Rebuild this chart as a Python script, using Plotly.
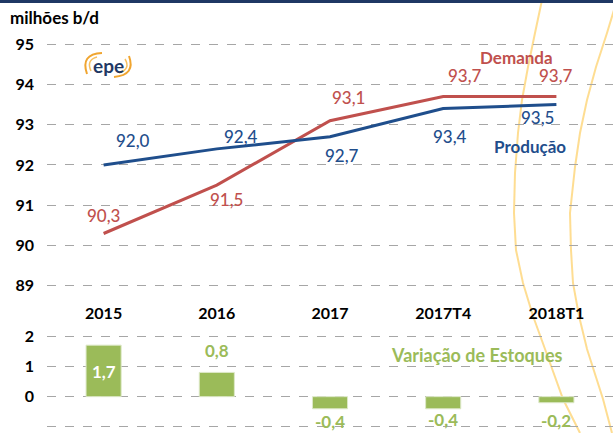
import plotly.graph_objects as go
from plotly.subplots import make_subplots

# ---- data ----
categorias = ["2015", "2016", "2017", "2017T4", "2018T1"]
producao = [92.0, 92.4, 92.7, 93.4, 93.5]
demanda = [90.3, 91.5, 93.1, 93.7, 93.7]
estoques = [1.7, 0.8, -0.4, -0.4, -0.2]
top_ticks = [89, 90, 91, 92, 93, 94, 95]
bot_ticks = [-1, 0, 1, 2]

RED = "#C0504D"
BLUE = "#1F4E8C"
GREEN = "#9BBB59"
GRID = "#A6A6A6"
FONT = "Lato"

W, H = 613, 433
ML, MR, MT, MB = 47, 0, 30, 3
PW, PH = W - ML - MR, H - MT - MB


def px(x):
    return (x - ML) / PW


def py(y):
    return (H - MB - y) / PH


def fmt(v):
    return f"{v:.1f}".replace(".", ",")


fig = make_subplots(rows=2, cols=1, shared_xaxes=False,
                    row_heights=[0.7, 0.3], vertical_spacing=0.05)

fig.add_trace(go.Scatter(x=categorias, y=demanda, mode="lines",
                         line=dict(color=RED, width=3), name="Demanda",
                         hoverinfo="skip"), row=1, col=1)
fig.add_trace(go.Scatter(x=categorias, y=producao, mode="lines",
                         line=dict(color=BLUE, width=3), name="Produção",
                         hoverinfo="skip"), row=1, col=1)
fig.add_trace(go.Bar(x=categorias, y=estoques, width=0.31,
                     marker=dict(color=GREEN, line=dict(color="#DDE8C8", width=1)),
                     name="Variação de Estoques", hoverinfo="skip"), row=2, col=1)

fig.update_layout(
    width=W, height=H,
    margin=dict(l=ML, r=MR, t=MT, b=MB, autoexpand=False),
    paper_bgcolor="white", plot_bgcolor="rgba(0,0,0,0)",
    showlegend=False,
    font=dict(family=FONT, color="black"),
    xaxis=dict(type="category", domain=[0, 1], range=[-0.5, 4.5], showgrid=False, zeroline=False,
               showline=False, ticks="", tickfont=dict(size=16, family=FONT, weight="bold"),
               anchor="y"),
    yaxis=dict(domain=[py(302), py(30)], range=[88.6, 95.35], tickvals=top_ticks,
               showgrid=True, gridcolor=GRID, griddash="dash", gridwidth=1,
               zeroline=False, showline=False, ticks="", ticklabelstandoff=12,
               tickfont=dict(size=16, family=FONT, weight="bold")),
    xaxis2=dict(type="category", domain=[0, 1], range=[-0.5, 4.5], showgrid=False, zeroline=False,
                showline=False, showticklabels=False, ticks="", anchor="y2"),
    yaxis2=dict(domain=[py(430), py(330)], range=[-1.1, 2.2], tickvals=bot_ticks,
                showgrid=True, gridcolor=GRID, griddash="dash", gridwidth=1,
                zeroline=False, showline=False, ticks="", ticklabelstandoff=12,
                tickfont=dict(size=16, family=FONT, weight="bold")),
)

ann = []
prod_off = [(29, -24), (24, -12), (12, 19), (7, 28), (-19, 13)]
dem_off = [(0, -18), (10, 14), (18, -23), (22, -21), (0, -21)]
for i, (v, (dx, dy)) in enumerate(zip(producao, prod_off)):
    ann.append(dict(x=i, y=v, xref="x", yref="y", text=fmt(v), showarrow=False,
                    xshift=dx, yshift=-dy,
                    font=dict(size=17, color=BLUE, family=FONT, weight=500)))
for i, (v, (dx, dy)) in enumerate(zip(demanda, dem_off)):
    ann.append(dict(x=i, y=v, xref="x", yref="y", text=fmt(v), showarrow=False,
                    xshift=dx, yshift=-dy,
                    font=dict(size=17, color=RED, family=FONT, weight=500)))

bar_off = [None, -9, 0, -2, 5]
for i, (v, off) in enumerate(zip(estoques, bar_off)):
    if off is None:
        ann.append(dict(x=i, y=v / 2, xref="x2", yref="y2", text=fmt(v), showarrow=False,
                        yshift=-1, font=dict(size=17, color="white", family=FONT, weight="bold")))
    else:
        ann.append(dict(x=i, y=v, xref="x2", yref="y2", text=fmt(v), showarrow=False,
                        yshift=-off, yanchor="top" if v < 0 else "bottom",
                        font=dict(size=17, color=GREEN, family=FONT, weight="bold")))


def ptext(x, y, text, color, size=17, anchor="center"):
    return dict(x=px(x), y=py(y), xref="paper", yref="paper", text=text,
                xanchor=anchor, yanchor="middle", showarrow=False,
                font=dict(size=size, color=color, family=FONT, weight="bold"))


ann.append(ptext(516, 57, "Demanda", RED))
ann.append(ptext(530, 146, "Produção", BLUE))
ann.append(ptext(477, 355, "Variação de Estoques", GREEN, size=18))
ann.append(ptext(8, 17, "milhões b/d", "black", size=17, anchor="left"))
ann.append(ptext(108, 65, "epe", "#1F3864", size=19))
fig.update_layout(annotations=ann)


def qpath(points):
    s = f"M {px(points[0][0])},{py(points[0][1])}"
    rest = points[1:]
    for i in range(0, len(rest), 2):
        (cx, cy), (ex, ey) = rest[i], rest[i + 1]
        s += f" Q {px(cx)},{py(cy)} {px(ex)},{py(ey)}"
    return s


def lpath(points):
    return "M " + " L ".join(f"{px(x)},{py(y)}" for x, y in points)


shapes = []
shapes.append(dict(type="rect", xref="paper", yref="paper", x0=px(0), x1=px(W),
                   y0=py(3), y1=py(0), fillcolor="#1F3864", line=dict(width=0)))
yellow = "rgba(253,210,110,0.75)"
left_curve = [(542, 0), (535, 33), (528, 67), (522, 100), (518, 133), (515, 173), (514, 213),
              (516, 250), (523, 283), (533, 316), (545, 349), (563, 399), (580, 433)]
right_curve = [(614, 10), (607, 33), (596, 67), (587, 100), (580, 133), (575, 167), (570, 213),
               (571, 250), (573, 283), (579, 316), (587, 349), (603, 399), (612, 433)]
shapes.append(dict(type="path", xref="paper", yref="paper", layer="below",
                   path=lpath(left_curve), line=dict(color=yellow, width=2)))
shapes.append(dict(type="path", xref="paper", yref="paper", layer="below",
                   path=lpath(right_curve), line=dict(color=yellow, width=2)))
orange = "#F0A530"
shapes.append(dict(type="path", xref="paper", yref="paper",
                   path=qpath([(102, 53), (80, 54), (87, 74)]), line=dict(color=orange, width=2)))
shapes.append(dict(type="path", xref="paper", yref="paper",
                   path=qpath([(97, 57), (86, 60), (91, 71)]), line=dict(color="#F7C060", width=1.5)))
shapes.append(dict(type="path", xref="paper", yref="paper",
                   path=qpath([(114, 77), (136, 75), (129, 56)]), line=dict(color=orange, width=2)))
shapes.append(dict(type="path", xref="paper", yref="paper",
                   path=qpath([(119, 73), (131, 69), (125, 59)]), line=dict(color="#F7C060", width=1.5)))
fig.update_layout(shapes=shapes)

fig.write_html("out.html", config={"displayModeBar": False},
               post_script="document.body.style.margin='0';")
